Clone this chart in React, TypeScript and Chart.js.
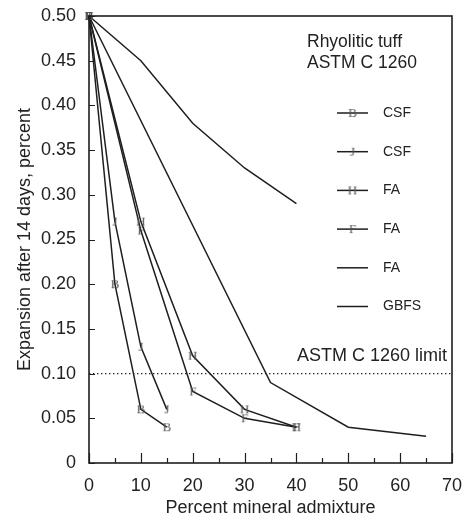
import React, { useEffect, useRef } from "react";
import { Chart, registerables } from "chart.js";

Chart.register(...registerables);

// ---- data ----
const bPct = [0, 5, 10, 15];
const bExp = [0.5, 0.2, 0.06, 0.04];
const jPct = [0, 5, 10, 15];
const jExp = [0.5, 0.27, 0.13, 0.06];
const hPct = [0, 10, 20, 30, 40];
const hExp = [0.5, 0.27, 0.12, 0.06, 0.04];
const fPct = [0, 10, 20, 30, 40];
const fExp = [0.5, 0.26, 0.08, 0.05, 0.04];
const faPct = [0, 10, 20, 30, 40];
const faExp = [0.5, 0.45, 0.38, 0.33, 0.29];
const gPct = [0, 35, 50, 65];
const gExp = [0.5, 0.09, 0.04, 0.03];

const seriesPct = [bPct, jPct, hPct, fPct, faPct, gPct];
const seriesExp = [bExp, jExp, hExp, fExp, faExp, gExp];
const seriesNames = ["CSF", "CSF", "FA", "FA", "FA", "GBFS"];
const seriesMarkers = ["B", "J", "H", "F", "", ""];

const limitValue = 0.1;
const limitRange = [0, 70];
const limitLabel = "ASTM C 1260 limit";
const noteLines = ["Rhyolitic tuff", "ASTM C 1260"];

const xTickValues = [0, 10, 20, 30, 40, 50, 60, 70];
const xMinorValues = [5, 15, 25, 35, 45, 55, 65];
const yTickValues = [0, 0.05, 0.1, 0.15, 0.2, 0.25, 0.3, 0.35, 0.4, 0.45, 0.5];
const xTitle = "Percent mineral admixture";
const yTitle = "Expansion after 14 days, percent";

const SANS = '"Liberation Sans", Arial, Helvetica, sans-serif';
const SERIF = '"Liberation Serif", "Times New Roman", serif';
const INK = "#1e1e1e";
const TEXT = "#222222";

function makeMarker(letter: string): HTMLCanvasElement {
  const c = document.createElement("canvas");
  c.width = 14;
  c.height = 16;
  const g = c.getContext("2d")!;
  g.font = `13px ${SERIF}`;
  g.textAlign = "center";
  g.textBaseline = "middle";
  g.fillStyle = "#555555";
  g.fillText(letter, 7, 8.5);
  return c;
}

const framePlugin = {
  id: "frameTicks",
  afterDatasetsDraw(chart: any) {
    const { ctx, chartArea } = chart;
    const { left, right, top, bottom } = chartArea;
    const xs = chart.scales.x;
    const ys = chart.scales.y;
    ctx.save();
    ctx.strokeStyle = INK;
    ctx.lineWidth = 1.6;
    ctx.strokeRect(left, top, right - left, bottom - top);
    ctx.lineWidth = 1.2;
    ctx.beginPath();
    yTickValues.forEach((v) => {
      const py = Math.round(ys.getPixelForValue(v)) + 0.5;
      ctx.moveTo(left, py);
      ctx.lineTo(left + 6, py);
    });
    xTickValues.forEach((v) => {
      const px = Math.round(xs.getPixelForValue(v)) + 0.5;
      ctx.moveTo(px, bottom);
      ctx.lineTo(px, bottom - 10);
    });
    xMinorValues.forEach((v) => {
      const px = Math.round(xs.getPixelForValue(v)) + 0.5;
      ctx.moveTo(px, bottom);
      ctx.lineTo(px, bottom - 5);
    });
    ctx.stroke();
    ctx.restore();
  },
};

const notesPlugin = {
  id: "notesLegend",
  afterDraw(chart: any) {
    const { ctx, chartArea } = chart;
    const { left, right, top } = chartArea;
    const ys = chart.scales.y;
    ctx.save();
    ctx.fillStyle = TEXT;
    ctx.textBaseline = "middle";
    ctx.textAlign = "left";
    ctx.font = `17.5px ${SANS}`;
    noteLines.forEach((t, i) => ctx.fillText(t, left + 218, top + 26 + i * 21.3));

    // legend
    chart.data.datasets.forEach((ds: any) => {
      if (ds.legendRow === undefined) return;
      const y = top + 97 + ds.legendRow * 38.7;
      ctx.strokeStyle = INK;
      ctx.lineWidth = 1.5;
      ctx.beginPath();
      ctx.moveTo(left + 248, y);
      ctx.lineTo(left + 279, y);
      ctx.stroke();
      if (ds.pointStyle && ds.pointStyle instanceof HTMLCanvasElement) {
        const im = ds.pointStyle as HTMLCanvasElement;
        ctx.drawImage(im, left + 263.5 - im.width / 2, y - im.height / 2);
      }
      ctx.fillStyle = TEXT;
      ctx.font = `14px ${SANS}`;
      ctx.fillText(ds.label, left + 294, y);
    });

    // limit label
    ctx.font = `18px ${SANS}`;
    ctx.textAlign = "right";
    ctx.fillStyle = TEXT;
    ctx.fillText(limitLabel, right - 5, ys.getPixelForValue(limitValue) - 17.5);
    ctx.restore();
  },
};

export default function App() {
  const ref = useRef<HTMLCanvasElement>(null);
  useEffect(() => {
    if (!ref.current) return;
    const datasets: any[] = seriesPct.map((xs, i) => {
      const m = seriesMarkers[i];
      return {
        label: seriesNames[i],
        legendRow: i,
        data: xs.map((x, k) => ({ x, y: seriesExp[i][k] })),
        borderColor: INK,
        backgroundColor: INK,
        borderWidth: 1.5,
        pointStyle: m ? makeMarker(m) : false,
        pointRadius: m ? 6 : 0,
        showLine: true,
        tension: 0,
        clip: false,
      };
    });
    datasets.push({
      label: limitLabel,
      data: limitRange.map((x) => ({ x, y: limitValue })),
      borderColor: INK,
      borderWidth: 1.4,
      borderDash: [1.4, 2.6],
      pointRadius: 0,
      showLine: true,
      clip: false,
    });

    const chart = new Chart(ref.current, {
      type: "scatter",
      data: { datasets },
      options: {
        animation: false,
        responsive: true,
        maintainAspectRatio: false,
        events: [],
        layout: { autoPadding: false, padding: { top: 8, right: 12, left: 0, bottom: 0 } },
        plugins: { legend: { display: false }, tooltip: { enabled: false } },
        scales: {
          x: {
            type: "linear",
            min: 0,
            max: 70,
            grid: { display: false, drawTicks: false },
            border: { display: false },
            afterBuildTicks: (s: any) => {
              s.ticks = xTickValues.map((v) => ({ value: v }));
            },
            afterFit: (s: any) => {
              s.height = 50;
              s.paddingLeft = 0;
              s.paddingRight = 0;
            },
            ticks: {
              padding: 12,
              color: TEXT,
              font: { family: SANS, size: 18 },
              maxRotation: 0,
              callback: (v: any) => String(v),
            },
            title: {
              display: true,
              text: xTitle,
              color: TEXT,
              font: { family: SANS, size: 18, lineHeight: 0.5 },
              padding: 0,
            },
          },
          y: {
            type: "linear",
            min: 0,
            max: 0.5,
            grid: { display: false, drawTicks: false },
            border: { display: false },
            afterBuildTicks: (s: any) => {
              s.ticks = yTickValues.map((v) => ({ value: v }));
            },
            afterFit: (s: any) => {
              s.width = 81;
              s.paddingTop = 0;
              s.paddingBottom = 0;
            },
            ticks: {
              padding: 13,
              color: TEXT,
              font: { family: SANS, size: 18 },
              callback: (v: any) => (Number(v) === 0 ? "0" : Number(v).toFixed(2)),
            },
            title: {
              display: true,
              text: yTitle,
              color: TEXT,
              font: { family: SANS, size: 18 },
              padding: { top: 6, bottom: 0 },
            },
          },
        },
      },
      plugins: [framePlugin, notesPlugin],
    });
    return () => chart.destroy();
  }, []);

  return (
    <div style={{ position: "relative", width: 456, height: 505 }}>
      <canvas ref={ref} />
    </div>
  );
}
